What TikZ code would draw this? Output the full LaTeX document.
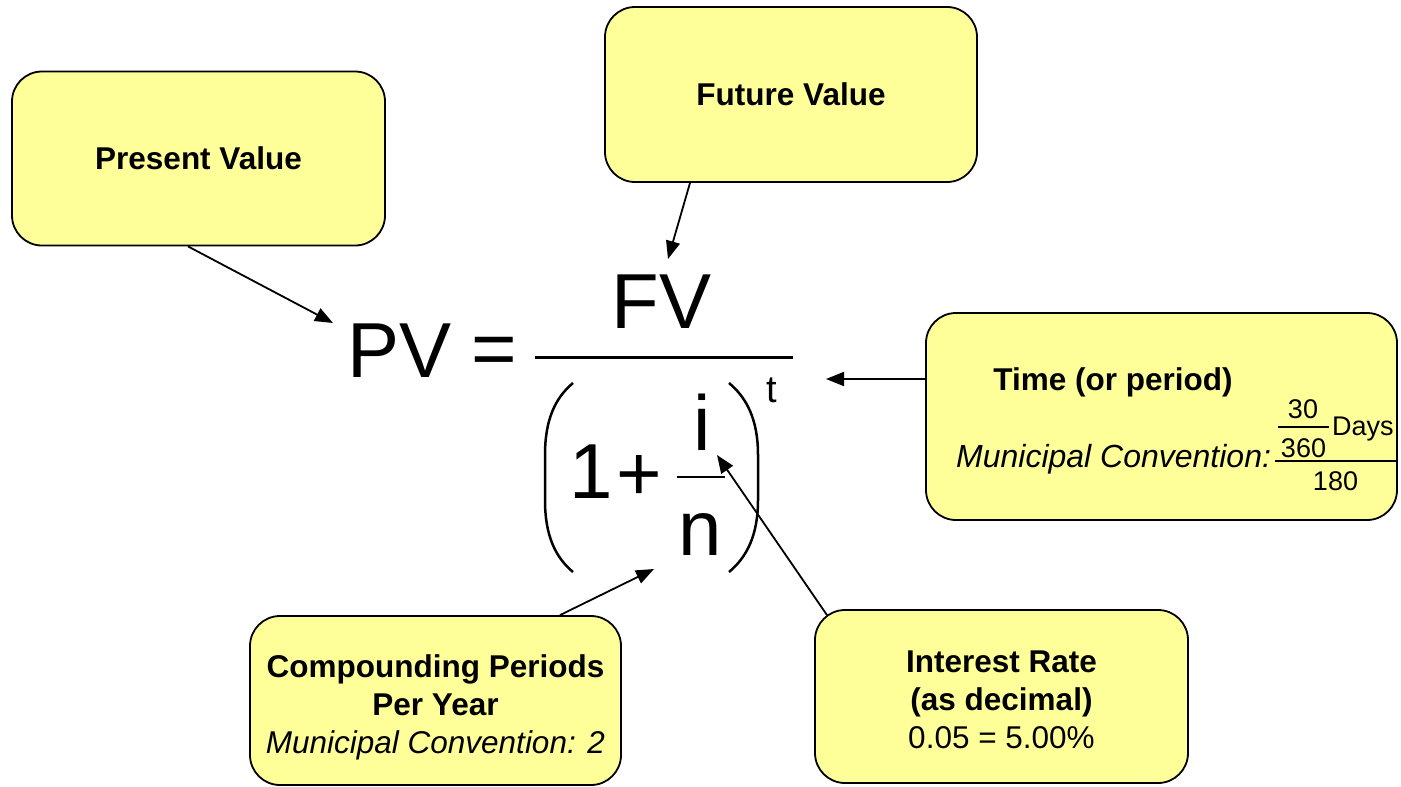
\documentclass[tikz,border=0pt]{standalone}
\usepackage{fontspec}
\setmainfont{Liberation Sans}
\usetikzlibrary{arrows.meta}
\definecolor{boxyellow}{RGB}{255,255,153}
\tikzset{
  callout/.style={draw=black, line width=1.8pt, fill=boxyellow, rounded corners=30pt,
    rectangle, inner sep=0pt, align=center,
    font=\fontsize{31.5}{38}\selectfont\bfseries},
  pointer/.style={line width=1.8pt, -{Triangle[length=18pt,width=14pt]}},
  big/.style={inner sep=0pt, font=\fontsize{78}{80}\selectfont},
  small/.style={inner sep=0pt, font=\fontsize{27}{30}\selectfont},
  mid/.style={inner sep=0pt, font=\fontsize{31.5}{38}\selectfont},
}
\begin{document}
\begin{tikzpicture}[x=1pt,y=-1pt]
\useasboundingbox (0,0) rectangle (1401,787);
% boxes
\node[callout, minimum width=373pt, minimum height=174pt] (pvbox) at (198.5,158.5) {Present Value};
\node[callout, minimum width=372pt, minimum height=175pt] (fvbox) at (791,94.5) {Future Value};
\node[callout, minimum width=471pt, minimum height=207pt] (tbox) at (1161.5,416.5) {};
\node[callout, minimum width=371pt, minimum height=169pt, text height=113pt, text depth=8pt] (nbox) at (435.5,700.5)
  {Compounding Periods\\Per Year\\{\mdseries\itshape Municipal Convention: 2}};
\node[callout, minimum width=373pt, minimum height=173pt, text height=111pt, text depth=8pt] (ibox) at (1001.5,696.5)
  {Interest Rate\\(as decimal)\\{\mdseries 0.05 = 5.00\%}};
% time box contents
\node[mid, anchor=base, font=\fontsize{31.5}{38}\selectfont\bfseries] (ttitle) at (1113,390) {Time (or period)};
\node[mid, anchor=base west, font=\fontsize{32}{38}\selectfont\itshape] (tconv) at (956,467) {Municipal Convention:};
\node[small, anchor=base] (thirty) at (1303,418) {30};
\node[small, anchor=base west] (days) at (1332,435) {Days};
\node[small, anchor=base] (three) at (1303.5,457) {360};
\node[small, anchor=base] (oneeighty) at (1335.5,490) {180};
\draw[line width=1.3pt] (1278,427) coordinate (sbl) -- (1329,427) coordinate (sbr);
\draw[line width=1.3pt] (1275,461) coordinate (bbl) -- (1398,461) coordinate (bbr);
% formula
\node[big, anchor=base] (pv) at (399.5,377) {PV};
\node[big, anchor=center] (eq) at (494.5,356.5) {=};
\node[big, anchor=base] (fv) at (661.5,328) {FV};
\draw[line width=3pt] (535,357) coordinate (barl) -- (793,357) coordinate (barr);
\draw[line width=2.5pt] (573,383) .. controls (555,398) and (545,420) .. (545,455) -- (545,500) .. controls (545,535) and (555,557) .. (573,572);
\draw[line width=2.5pt] (729,383) .. controls (747,398) and (758,420) .. (758,455) -- (758,500) .. controls (758,535) and (747,557) .. (729,572);
\node[big, anchor=base] (one) at (591,498) {1};
\node[big, anchor=center] (plus) at (639,478) {+};
\draw[line width=1.5pt] (677,477) coordinate (fl) -- (725,477) coordinate (fr);
\node[big, anchor=base] (inum) at (702,450) {i};
\node[big, anchor=base] (nden) at (700,555) {n};
\node[inner sep=0pt, font=\fontsize{38}{40}\selectfont, anchor=base] (texp) at (772,402) {t};
% arrow tips
\coordinate (pvtip) at (333,323);
\coordinate (fvtip) at (668,259);
\coordinate (ttip) at (826,379);
\coordinate (ntip) at (654,569);
\coordinate (itip) at (717,455);
% connectors
\draw[pointer] ([xshift=-10.5pt]pvbox.south) -- (pvtip);
\draw[pointer] ([xshift=-101pt]fvbox.south) -- (fvtip);
\draw[pointer] (tbox.west |- ttip) -- (ttip);
\draw[pointer] ([xshift=124.5pt]nbox.north) -- (ntip);
\draw[pointer] ([xshift=-174.5pt,yshift=-6pt]ibox.north) -- (itip);
\end{tikzpicture}
\end{document}
